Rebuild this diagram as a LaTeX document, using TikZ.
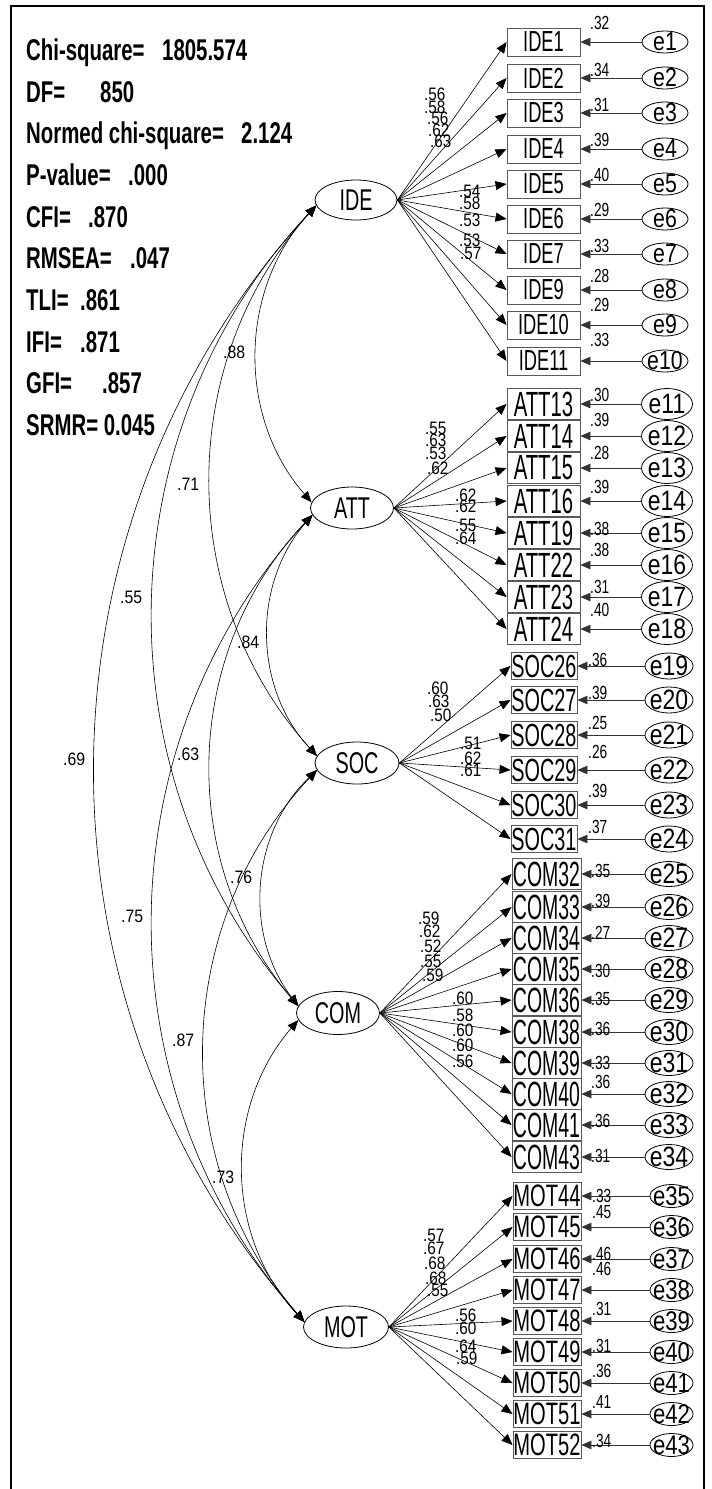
\documentclass[tikz,border=0pt]{standalone}
\usepackage{fontspec}
\setmainfont{Liberation Sans}
\usetikzlibrary{arrows.meta,shapes.geometric,calc}
\newcommand{\sqz}[3]{\scalebox{#1}[1]{\fontsize{#2}{#2}\selectfont #3}}
\newcommand{\covline}[2]{\draw[cov] (#1) .. controls ($(#1)!0.3837!-42:(#2)$) and ($(#2)!0.3837!42:(#1)$) .. (#2);}
\begin{document}
\begin{tikzpicture}[x=1pt,y=1pt,
  lat/.style={draw, ellipse, inner sep=0pt, line width=0.8pt},
  ind/.style={draw=black!65, rectangle, inner sep=0pt, line width=0.9pt},
  err/.style={draw, ellipse, inner sep=0pt, line width=0.8pt},
  load/.style={-{Triangle[length=11pt,width=9pt]}, line width=0.6pt},
  res/.style={-{Triangle[length=10pt,width=8.5pt]}, line width=0.8pt, black!80},
  cov/.style={{Triangle[length=11pt,width=9pt]}-{Triangle[length=11pt,width=9pt]}, line width=0.6pt},
  num/.style={inner sep=0pt, anchor=base west},
]
\fill[white] (0,0) rectangle (712,-1489);
\useasboundingbox (0,0) rectangle (712,-1489);
\draw[line width=2pt] (11,-1489) -- (11,-6) -- (704,-6) -- (704,-1489);

% fit statistics
\foreach \t/\yy [count=\i] in {Chi-square=/60, DF=/102, Normed chi-square=/143, P-value=/185, CFI=/227, RMSEA=/268, TLI=/310, IFI=/352, GFI=/393, SRMR= 0.045/435}
  \node[num] (fitl\i) at (26,-\yy) {\sqz{0.68}{30}{\bfseries \t}};
\foreach \t/\xx/\yy [count=\i] in {1805.574/162/60, 850/100/102, 2.124/241/143, .000/128/185, .870/88/227, .047/130/268, .861/80/310, .871/80/352, .857/102/393}
  \node[num] (fitv\i) at (\xx,-\yy) {\sqz{0.68}{30}{\bfseries \t}};

% latent variables
\node[lat, minimum width=82pt, minimum height=40pt] (IDE) at (356,-200) {\sqz{0.66}{30}{IDE}};
\node[lat, minimum width=83pt, minimum height=42pt] (ATT) at (352,-508) {\sqz{0.66}{30}{ATT}};
\node[lat, minimum width=84pt, minimum height=42pt] (SOC) at (357,-763) {\sqz{0.66}{30}{SOC}};
\node[lat, minimum width=83pt, minimum height=43pt] (COM) at (338,-1013) {\sqz{0.66}{30}{COM}};
\node[lat, minimum width=85pt, minimum height=42pt] (MOT) at (346,-1327) {\sqz{0.66}{30}{MOT}};

% IDE indicators
\foreach \n/\yy/\e/\r/\rb in {IDE1/42/1/.32/29, IDE2/78/2/.34/76, IDE3/113/3/.31/111, IDE4/149/4/.39/146, IDE5/184/5/.40/181, IDE6/219/6/.29/216, IDE7/254/7/.33/252, IDE9/290/8/.28/282, IDE10/325/9/.29/311, IDE11/361/10/.33/346} {
  \node[ind, minimum width=73pt, minimum height=28pt] (\n) at (543.5,-\yy) {\sqz{0.63}{29}{\n}};
  \node[err, minimum width=46pt, minimum height=22pt, label={center:\sqz{0.82}{26}{e\e}}] (e\e) at (665,-\yy) {};
  \draw[res] (e\e.west) -- (\n.east);
  \draw[load] (IDE.east) -- (\n.west);
  \node[num] (r\n) at (590,-\rb) {\sqz{0.72}{19}{\r}};
}
% ATT indicators
\foreach \n/\yy/\e/\r/\rb in {ATT13/404/11/.30/401, ATT14/436/12/.39/426, ATT15/468/13/.28/459, ATT16/501/14/.39/493, ATT19/533/15/.38/535, ATT22/565/16/.38/556, ATT23/597/17/.31/593, ATT24/629/18/.40/616} {
  \node[ind, minimum width=73pt, minimum height=31pt] (\n) at (543.5,-\yy) {\sqz{0.58}{35}{\n}};
  \node[err, minimum width=51pt, minimum height=31pt, label={center:\sqz{0.82}{28}{e\e}}] (e\e) at (667,-\yy) {};
  \draw[res] (e\e.west) -- (\n.east);
  \draw[load] (ATT.east) -- (\n.west);
  \node[num] (r\n) at (590,-\rb) {\sqz{0.72}{19}{\r}};
}
% SOC indicators
\foreach \n/\yy/\e/\r/\rb in {SOC26/666/19/.36/666, SOC27/700/20/.39/699, SOC28/735/21/.25/729, SOC29/770/22/.26/758, SOC30/805/23/.39/797, SOC31/839/24/.37/833} {
  \node[ind, minimum width=66pt, minimum height=27pt] (\n) at (544,-\yy) {\sqz{0.62}{32}{\n}};
  \node[err, minimum width=48pt, minimum height=26pt, label={center:\sqz{0.82}{28}{e\e}}] (e\e) at (669,-\yy) {};
  \draw[res] (e\e.west) -- (\n.east);
  \draw[load] (SOC.east) -- (\n.west);
  \node[num] (r\n) at (588,-\rb) {\sqz{0.72}{19}{\r}};
}
% COM indicators
\foreach \n/\yy/\e/\r/\rb in {COM32/874/25/.35/877, COM33/907/26/.39/907, COM34/938/27/.27/939, COM35/969/28/.30/977, COM36/1000/29/.35/1005, COM38/1032/30/.36/1035, COM39/1063/31/.33/1069, COM40/1094/32/.36/1088, COM41/1125/33/.36/1127, COM43/1157/34/.31/1162} {
  \node[ind, minimum width=69pt, minimum height=31pt] (\n) at (546.5,-\yy) {\sqz{0.556}{35}{\n}};
  \node[err, minimum width=48pt, minimum height=25pt, label={center:\sqz{0.82}{28}{e\e}}] (e\e) at (669,-\yy) {};
  \draw[res] (e\e.west) -- (\n.east);
  \draw[load] (COM.east) -- (\n.west);
  \node[num] (r\n) at (591,-\rb) {\sqz{0.72}{19}{\r}};
}
% MOT indicators
\foreach \n/\yy/\e/\r/\rb in {MOT44/1196/35/.33/1202, MOT45/1227/36/.45/1218, MOT46/1259/37/.46/1260, MOT47/1290/38/.46/1275, MOT48/1321/39/.31/1315, MOT49/1352/40/.31/1352, MOT50/1383/41/.36/1377, MOT51/1414/42/.41/1408, MOT52/1445/43/.34/1447} {
  \node[ind, minimum width=68pt, minimum height=27pt] (\n) at (547,-\yy) {\sqz{0.65}{31}{\n}};
  \node[err, minimum width=43pt, minimum height=23pt, label={center:\sqz{0.82}{27}{e\e}}] (e\e) at (671.5,-\yy) {};
  \draw[res] (e\e.west) -- (\n.east);
  \draw[load] (MOT.east) -- (\n.west);
  \node[num] (r\n) at (592,-\rb) {\sqz{0.72}{19}{\r}};
}

% loading labels
\foreach \xx/\yy/\t [count=\i] in {424/100/.56, 424/113/.58, 427/124/.56, 428/136/.62, 430/147/.63, 459/197/.54, 459/209/.58, 459/226/.53, 459/246/.53, 460/259/.57,
  425/434/.55, 425/446/.63, 425/459/.53, 427/474/.62, 455/501/.62, 455/512/.62, 455/531/.55, 455/544/.64,
  427/694/.60, 428/707/.63, 430/721/.50, 460/749/.51, 460/764/.62, 460/776/.61,
  418/924/.59, 419/937/.62, 420/952/.52, 420/967/.55, 422/981/.59, 452/1004/.60, 452/1021/.58, 452/1036/.60, 452/1051/.60, 452/1067/.56,
  423/1241/.57, 423/1254/.67, 424/1269/.68, 425/1284/.68, 427/1296/.55, 455/1321/.56, 455/1334/.60, 455/1352/.64, 456/1364/.59}
  \node[num] (ld\i) at (\xx,-\yy) {\sqz{0.85}{18}{\t}};

% covariances
\covline{IDE.188}{ATT.172}
\covline{IDE.188}{SOC.170}
\covline{IDE.188}{COM.170}
\covline{IDE.188}{MOT.173}
\covline{ATT.190}{SOC.170}
\covline{ATT.190}{COM.170}
\covline{ATT.190}{MOT.173}
\covline{SOC.190}{COM.170}
\covline{SOC.190}{MOT.173}
\covline{COM.190}{MOT.173}

\foreach \xx/\yy/\t [count=\i] in {223/358/.88, 177/490/.71, 120/603/.55, 237/648/.84, 63/765/.69, 177/760/.63, 230/883/.76, 121/922/.75, 172/1046/.87, 212/1183/.73}
  \node[num] (cv\i) at (\xx,-\yy) {\sqz{0.88}{18}{\t}};
\end{tikzpicture}
\end{document}
